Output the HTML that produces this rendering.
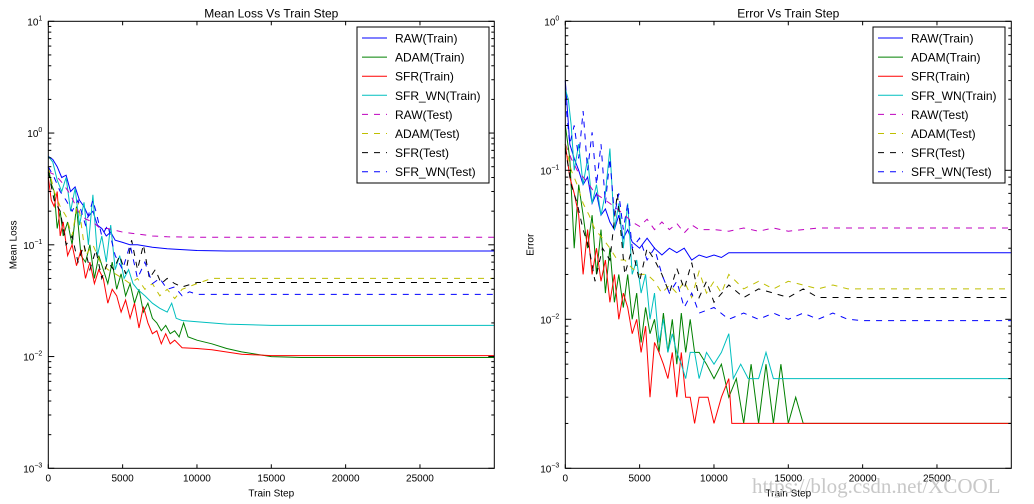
<!DOCTYPE html>
<html><head><meta charset="utf-8"><style>
html,body{margin:0;padding:0;background:#fff;}
svg{display:block;font-family:"Liberation Sans",sans-serif;}
</style></head><body>
<svg id="c" width="1034" height="504" xmlns="http://www.w3.org/2000/svg"></svg>
<script>
// ---- data: Mean Loss chart ----
const lossRawTrainSteps=[0,300,600,900,1200,1500,1800,2100,2400,2700,3000,3300,3600,3900,4200,4500,5000,5500,6000,7000,8000,10000,12000,30000];
const lossRawTrainVals=[0.62,0.58,0.5,0.4,0.42,0.3,0.33,0.25,0.22,0.18,0.2,0.15,0.14,0.12,0.13,0.11,0.105,0.1,0.1,0.095,0.092,0.089,0.088,0.088];
const lossAdamTrainSteps=[0,200,400,600,800,1000,1300,1600,1900,2200,2500,2800,3100,3400,3700,4000,4300,4600,4900,5200,5500,5800,6100,6400,6700,7000,7300,7600,7900,8200,8500,8800,9100,9400,10000,11000,12000,13000,14000,15000,17000,30000];
const lossAdamTrainVals=[0.5,0.35,0.3,0.14,0.2,0.12,0.16,0.1,0.22,0.08,0.07,0.1,0.05,0.08,0.06,0.045,0.07,0.04,0.055,0.035,0.045,0.03,0.04,0.025,0.03,0.022,0.02,0.017,0.019,0.016,0.017,0.015,0.02,0.015,0.014,0.013,0.0118,0.011,0.0105,0.01,0.0098,0.0098];
const lossSfrTrainSteps=[0,200,400,600,800,1000,1300,1600,1900,2200,2500,2800,3100,3400,3700,4000,4300,4600,4900,5200,5500,5800,6100,6400,6700,7000,7300,7600,7900,8200,8500,9000,10000,11000,13000,15000,30000];
const lossSfrTrainVals=[0.4,0.25,0.22,0.3,0.12,0.16,0.08,0.1,0.065,0.09,0.05,0.07,0.045,0.06,0.05,0.03,0.04,0.035,0.025,0.032,0.022,0.03,0.018,0.028,0.02,0.016,0.017,0.013,0.016,0.013,0.014,0.012,0.0118,0.0115,0.0105,0.0102,0.0102];
const lossWnTrainSteps=[0,300,600,900,1200,1500,1800,2100,2400,2700,3000,3300,3600,3900,4200,4500,4800,5100,5400,5700,6000,6500,7000,7500,8000,8300,8600,9000,10000,12000,15000,30000];
const lossWnTrainVals=[0.62,0.55,0.38,0.3,0.4,0.2,0.32,0.15,0.24,0.1,0.28,0.08,0.12,0.07,0.15,0.06,0.08,0.05,0.06,0.045,0.04,0.035,0.03,0.027,0.025,0.03,0.022,0.021,0.0205,0.0195,0.019,0.019];
const lossRawTestSteps=[0,500,1000,1500,2000,2500,3000,3500,4000,5000,6000,7000,8000,10000,30000];
const lossRawTestVals=[0.45,0.42,0.35,0.28,0.2,0.17,0.16,0.14,0.14,0.13,0.125,0.12,0.118,0.117,0.117];
const lossAdamTestSteps=[0,400,800,1200,1600,2000,2500,3000,3500,4000,4500,5000,5500,6000,6500,7000,7500,8000,8500,9000,10000,11000,12000,30000];
const lossAdamTestVals=[0.5,0.3,0.22,0.18,0.12,0.25,0.08,0.1,0.07,0.06,0.055,0.05,0.045,0.05,0.04,0.045,0.035,0.04,0.033,0.04,0.045,0.05,0.05,0.05];
const lossSfrTestSteps=[0,400,800,1200,1600,2000,2400,2800,3200,3600,4000,4400,4800,5200,5600,6000,6400,6800,7200,7600,8000,8500,9000,10000,30000];
const lossSfrTestVals=[0.45,0.25,0.2,0.1,0.12,0.07,0.1,0.06,0.09,0.05,0.07,0.06,0.08,0.055,0.11,0.06,0.1,0.05,0.06,0.045,0.05,0.045,0.042,0.046,0.046];
const lossWnTestSteps=[0,400,800,1200,1600,2000,2500,3000,3200,3600,4000,4500,5000,5500,6000,6500,7000,7500,8000,8500,9000,9500,10000,11000,30000];
const lossWnTestVals=[0.5,0.4,0.3,0.25,0.2,0.25,0.15,0.25,0.2,0.12,0.15,0.08,0.06,0.1,0.05,0.07,0.045,0.05,0.04,0.042,0.035,0.038,0.036,0.036,0.036];
// ---- data: Error chart ----
const errRawTrainSteps=[0,300,600,900,1200,1500,1800,2100,2400,2700,3000,3300,3600,3900,4200,4500,5000,5500,6000,6500,7000,7500,8000,8500,9000,9500,10000,10500,11000,12000,30000];
const errRawTrainVals=[0.4,0.15,0.12,0.1,0.08,0.09,0.06,0.07,0.05,0.055,0.045,0.04,0.05,0.035,0.04,0.033,0.03,0.035,0.03,0.027,0.03,0.028,0.03,0.025,0.027,0.026,0.027,0.026,0.028,0.028,0.028];
const errAdamTrainSteps=[0,300,600,900,1200,1500,1800,2100,2400,2700,3000,3300,3600,3900,4200,4500,4800,5100,5400,5700,6000,6300,6600,6900,7200,7500,7800,8100,8400,8700,9000,9500,10000,10500,11000,11500,12000,12500,13000,13500,14000,14500,15000,15500,16000,16300,30000];
const errAdamTrainVals=[0.2,0.12,0.03,0.08,0.05,0.03,0.05,0.02,0.04,0.015,0.03,0.013,0.02,0.012,0.02,0.01,0.015,0.007,0.012,0.008,0.01,0.006,0.011,0.006,0.01,0.005,0.011,0.006,0.01,0.006,0.006,0.005,0.004,0.005,0.003,0.004,0.002,0.005,0.002,0.005,0.002,0.005,0.002,0.003,0.002,0.002,0.002];
const errSfrTrainSteps=[0,300,600,900,1200,1500,1800,2100,2400,2700,3000,3300,3600,3900,4200,4500,4800,5100,5400,5700,6000,6300,6600,6900,7200,7500,7800,8100,8400,8700,9000,9300,9600,10000,10500,11000,11200,30000];
const errSfrTrainVals=[0.15,0.09,0.07,0.05,0.02,0.04,0.02,0.03,0.018,0.025,0.013,0.02,0.01,0.015,0.012,0.008,0.01,0.006,0.009,0.003,0.007,0.006,0.005,0.004,0.006,0.003,0.006,0.003,0.003,0.002,0.003,0.003,0.003,0.002,0.003,0.004,0.002,0.002];
const errWnTrainSteps=[0,200,400,600,900,1200,1500,1800,2100,2400,2700,3000,3300,3600,3900,4200,4500,4800,5100,5400,5700,6000,6300,6600,6900,7200,7500,7800,8100,8400,8700,9000,9500,10000,10500,11000,11300,11800,12300,13000,13500,14000,30000];
const errWnTrainVals=[0.35,0.3,0.2,0.1,0.15,0.08,0.12,0.06,0.08,0.05,0.07,0.14,0.04,0.06,0.03,0.06,0.02,0.025,0.015,0.02,0.01,0.015,0.007,0.01,0.006,0.008,0.006,0.005,0.004,0.006,0.006,0.004,0.006,0.005,0.006,0.008,0.004,0.005,0.004,0.004,0.006,0.004,0.004];
const errRawTestSteps=[0,400,800,1200,1600,2000,2500,3000,3500,4000,4500,5000,5500,6000,6500,7000,7500,8000,8500,9000,10000,11000,12000,13000,14000,15000,16000,17000,30000];
const errRawTestVals=[0.15,0.12,0.1,0.09,0.08,0.07,0.065,0.06,0.055,0.05,0.045,0.042,0.047,0.04,0.045,0.04,0.044,0.038,0.043,0.04,0.04,0.039,0.041,0.039,0.041,0.039,0.04,0.041,0.041];
const errAdamTestSteps=[0,400,800,1200,1600,2000,2500,3000,3500,4000,4500,5000,5500,6000,6500,7000,7500,8000,8500,9000,9500,10000,10500,11000,12000,13000,14000,15000,16000,17000,18000,19000,20000,30000];
const errAdamTestVals=[0.15,0.1,0.08,0.06,0.05,0.04,0.035,0.03,0.025,0.025,0.022,0.02,0.02,0.018,0.015,0.017,0.015,0.018,0.014,0.021,0.015,0.018,0.015,0.02,0.016,0.018,0.016,0.018,0.017,0.016,0.017,0.016,0.016,0.016];
const errSfrTestSteps=[0,400,800,1200,1600,2000,2500,3000,3500,4000,4500,5000,5500,6000,6500,7000,7500,8000,8500,9000,9500,10000,11000,12000,13000,14000,15000,16000,17000,30000];
const errSfrTestVals=[0.14,0.08,0.06,0.04,0.03,0.018,0.03,0.025,0.07,0.02,0.03,0.018,0.03,0.025,0.02,0.015,0.022,0.016,0.024,0.014,0.018,0.013,0.017,0.014,0.016,0.015,0.014,0.016,0.014,0.014];
const errWnTestSteps=[0,300,600,900,1200,1500,1800,2100,2400,2700,3000,3300,3600,3900,4200,4500,5000,5500,6000,6500,7000,7500,8000,8500,9000,10000,11000,12000,13000,14000,15000,16000,17000,18000,19000,20000,30000];
const errWnTestVals=[0.3,0.15,0.2,0.12,0.25,0.1,0.18,0.08,0.15,0.06,0.12,0.05,0.07,0.04,0.06,0.03,0.035,0.025,0.03,0.02,0.015,0.018,0.012,0.015,0.011,0.012,0.01,0.011,0.01,0.011,0.01,0.011,0.01,0.011,0.01,0.0098,0.0098];

const NS="http://www.w3.org/2000/svg";
const svg=document.getElementById('c');
function mk(tag,attrs,parent){const e=document.createElementNS(NS,tag);for(const k in attrs)e.setAttribute(k,attrs[k]);(parent||svg).appendChild(e);return e;}

const legendNames=['RAW(Train)','ADAM(Train)','SFR(Train)','SFR_WN(Train)','RAW(Test)','ADAM(Test)','SFR(Test)','SFR_WN(Test)'];
const colors=['#0000ff','#008000','#ff0000','#00bfbf','#bf00bf','#bfbf00','#000000','#0000ff'];

function drawPanel(id,x0,x1,y0,y1,decMin,decMax,title,ylabel,series,legX){
  const g=mk('g',{});
  
  
  const X=s=>x0+(s/30000)*(x1-x0);
  const Y=v=>y1-(Math.log10(v)-decMin)/(decMax-decMin)*(y1-y0);
  // series
  series.forEach((s,i)=>{
    const d=s[0].map((st,j)=>(j?'L':'M')+X(st).toFixed(1)+','+Y(s[1][j]).toFixed(1)).join('');
    const p=mk('path',{d:d,fill:'none',stroke:colors[i],'stroke-width':1,'stroke-dasharray':i>=4?'6,6':'none'},g);
    
    
  });
  // frame
  const fr=mk('rect',{x:x0,y:y0,width:x1-x0,height:y1-y0,fill:'none',stroke:'#000','stroke-width':1},g);
  
  
  // x ticks
  [0,5000,10000,15000,20000,25000].forEach(t=>{
    const x=X(t);
    mk('line',{x1:x,x2:x,y1:y1,y2:y1-4,stroke:'#000'},g);
    mk('line',{x1:x,x2:x,y1:y0,y2:y0+4,stroke:'#000'},g);
    const tx=mk('text',{x:x,y:y1+13,'font-size':10,'text-anchor':'middle'},g);
    tx.textContent=t;
    
    
  });
  // y ticks
  for(let d=decMin;d<=decMax;d++){
    const y=Y(Math.pow(10,d));
    mk('line',{x1:x0,x2:x0+6,y1:y,y2:y,stroke:'#000'},g);
    mk('line',{x1:x1,x2:x1-6,y1:y,y2:y,stroke:'#000'},g);
    const tx=mk('text',{x:x0-6,y:y+4,'font-size':10,'text-anchor':'end'},g);
    tx.textContent='10';
    const sup=mk('tspan',{dy:-5,'font-size':7},tx);
    sup.textContent=String(d).replace('-','\u2212');
    
    
    if(d<decMax)for(let m=2;m<=9;m++){
      const ym=Y(m*Math.pow(10,d));
      mk('line',{x1:x0,x2:x0+3,y1:ym,y2:ym,stroke:'#000'},g);
      mk('line',{x1:x1,x2:x1-3,y1:ym,y2:ym,stroke:'#000'},g);
    }
  }
  const t=mk('text',{x:(x0+x1)/2,y:y0-4,'font-size':12,'text-anchor':'middle'},g);
  t.textContent=title;
  
  
  const xl=mk('text',{x:(x0+x1)/2,y:y1+28,'font-size':10,'text-anchor':'middle'},g);
  xl.textContent='Train Step';
  
  
  const yl=mk('text',{x:0,y:0,'font-size':10,'text-anchor':'middle',transform:'translate('+(x0-32)+','+((y0+y1)/2)+') rotate(-90)'},g);
  yl.textContent=ylabel;
  
  
  // legend
  const lg=mk('g',{},g);
  
  
  mk('rect',{x:legX,y:27,width:132,height:156,fill:'#fff',stroke:'#000','stroke-width':1},lg);
  legendNames.forEach((n,i)=>{
    const yy=38+i*19.1;
    const e=mk('g',{},lg);
    
    
    mk('line',{x1:legX+5,x2:legX+30,y1:yy,y2:yy,stroke:colors[i],'stroke-width':1,'stroke-dasharray':i>=4?'6,6':'none'},e);
    const tx=mk('text',{x:legX+38,y:yy+4.5,'font-size':12},e);
    tx.textContent=n;
  });
}

drawPanel('loss',48.3,494.3,21.3,468.3,-3,1,'Mean Loss Vs Train Step','Mean Loss',[
 [lossRawTrainSteps,lossRawTrainVals],[lossAdamTrainSteps,lossAdamTrainVals],[lossSfrTrainSteps,lossSfrTrainVals],[lossWnTrainSteps,lossWnTrainVals],
 [lossRawTestSteps,lossRawTestVals],[lossAdamTestSteps,lossAdamTestVals],[lossSfrTestSteps,lossSfrTestVals],[lossWnTestSteps,lossWnTestVals]],357);
drawPanel('error',565.3,1011.3,21.3,468.3,-3,0,'Error Vs Train Step','Error',[
 [errRawTrainSteps,errRawTrainVals],[errAdamTrainSteps,errAdamTrainVals],[errSfrTrainSteps,errSfrTrainVals],[errWnTrainSteps,errWnTrainVals],
 [errRawTestSteps,errRawTestVals],[errAdamTestSteps,errAdamTestVals],[errSfrTestSteps,errSfrTestVals],[errWnTestSteps,errWnTestVals]],873);
const wm=mk('text',{x:752,y:493,'font-size':21,fill:'#c8c8c8','font-family':'Liberation Serif, serif'});
wm.textContent='https://blog.csdn.net/XCOOL';


</script>
</body></html>
